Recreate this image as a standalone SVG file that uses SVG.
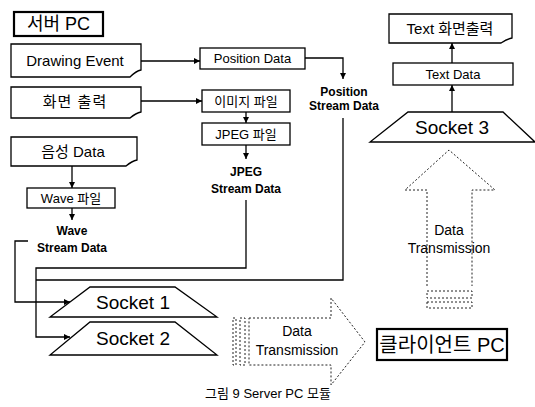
<svg xmlns="http://www.w3.org/2000/svg" width="535" height="407" viewBox="0 0 535 407">
<defs>
<style>
text{font-family:"Liberation Sans","Noto Sans CJK KR",sans-serif;fill:#000;text-anchor:middle;dominant-baseline:central}
.box{fill:#fff;stroke:#000;stroke-width:1.3}
.thick{fill:#fff;stroke:#000;stroke-width:2.2}
.doc{fill:#fff;stroke:#000;stroke-width:1.3}
.line{fill:none;stroke:#000;stroke-width:1.3}
.dash{fill:none;stroke:#222;stroke-width:1;stroke-dasharray:2 2}
.lbl{font-size:13px}
.sm{font-size:12px;font-weight:bold}
.sock{font-size:19px}
.tx{font-size:14px}
</style>
<marker id="ah" viewBox="0 0 8 8" refX="8" refY="4" markerWidth="6" markerHeight="6" orient="auto" markerUnits="userSpaceOnUse">
<path d="M0,0 L8,4 L0,8 z" fill="#000"/>
</marker>
</defs>

<g id="server-pc">
<rect class="thick" x="14" y="12" width="89" height="24"/>
<text x="58.5" y="24" style="font-size:18px">서버 PC</text>
</g>

<g id="drawing-event">
<path class="doc" d="M11,44 H141 V70 Q136,71 130,77 H11 Z"/>
<text class="tx" x="75" y="60" style="font-size:15px">Drawing Event</text>
</g>

<g id="position-data">
<rect class="box" x="200" y="48" width="105" height="21"/>
<text class="lbl" x="252.5" y="58.5">Position Data</text>
</g>

<g id="screen-out">
<path class="doc" d="M11,87 H141 V112 Q136,113 130,118 H11 Z"/>
<text x="75" y="101" style="font-size:15px;letter-spacing:1px">화면 출력</text>
</g>

<g id="image-file">
<rect class="box" x="202" y="90" width="88" height="22"/>
<text class="lbl" x="246" y="101">이미지 파일</text>
</g>

<g id="jpeg-file">
<rect class="box" x="202" y="123" width="88" height="22"/>
<text class="lbl" x="246" y="134">JPEG 파일</text>
</g>

<g id="jpeg-stream">
<text class="sm" x="246" y="172">JPEG</text>
<text class="sm" x="246" y="189">Stream Data</text>
</g>

<g id="position-stream">
<text class="sm" x="344" y="92">Position</text>
<text class="sm" x="344" y="106">Stream Data</text>
</g>

<g id="voice-data">
<path class="doc" d="M11,137 H137 V160 Q132,161 126,166 H11 Z"/>
<text x="73" y="151" style="font-size:15px">음성 Data</text>
</g>

<g id="wave-file">
<rect class="box" x="27" y="188" width="88" height="20"/>
<text class="lbl" x="71" y="198">Wave 파일</text>
</g>

<g id="wave-stream">
<text class="sm" x="72" y="231">Wave</text>
<text class="sm" x="72" y="248">Stream Data</text>
</g>

<g id="socket1">
<path class="box" d="M90,287 H175 L217,317 H50 Z"/>
<text class="sock" x="133" y="302">Socket 1</text>
</g>

<g id="socket2">
<path class="box" d="M90,322 H175 L217,355 H50 Z"/>
<text class="sock" x="133" y="338">Socket 2</text>
</g>

<g id="tx-right">
<rect class="dash" x="233" y="318" width="3" height="47"/>
<rect class="dash" x="240" y="318" width="5" height="47"/>
<path class="dash" d="M249,318 H331 V298 L365,342 L331,385 V365 H249 Z"/>
<text class="tx" x="297" y="331">Data</text>
<text class="tx" x="297" y="350">Transmission</text>
</g>

<g id="client-pc">
<rect class="thick" x="377" y="329" width="130" height="31"/>
<text x="442" y="345" style="font-size:20px">클라이언트 PC</text>
</g>

<g id="tx-up">
<path class="dash" d="M427,286 V190 H405 L449,150 L495,190 H472 V286"/>
<rect class="dash" x="427" y="291" width="45" height="7"/>
<rect class="dash" x="427" y="302" width="45" height="6"/>
<text class="tx" x="449" y="230">Data</text>
<text class="tx" x="449" y="248">Transmission</text>
</g>

<g id="socket3">
<path class="box" d="M408,112 H503 L535,142 H370 Z"/>
<text class="sock" x="452" y="127">Socket 3</text>
</g>

<g id="text-data">
<rect class="box" x="393" y="63" width="120" height="22"/>
<text class="lbl" x="453" y="74">Text Data</text>
</g>

<g id="text-screen">
<path class="doc" d="M389,14 H512 V38 Q507,39 501,43 H389 Z"/>
<text x="450" y="28" style="font-size:15px">Text 화면출력</text>
</g>

<g id="connectors">
<line class="line" x1="141" y1="61" x2="200" y2="61" marker-end="url(#ah)"/>
<line class="line" x1="141" y1="101" x2="202" y2="101" marker-end="url(#ah)"/>
<line class="line" x1="246" y1="112" x2="246" y2="123" marker-end="url(#ah)"/>
<line class="line" x1="246" y1="145" x2="246" y2="159" marker-end="url(#ah)"/>
<path class="line" d="M305,58 H343 V79" marker-end="url(#ah)"/>
<line class="line" x1="72" y1="166" x2="72" y2="188" marker-end="url(#ah)"/>
<line class="line" x1="72" y1="208" x2="72" y2="220" marker-end="url(#ah)"/>
<path class="line" d="M28,241 H15 V302 H70" marker-end="url(#ah)"/>
<path class="line" d="M246,200 V268 H36 V337 H70" marker-end="url(#ah)"/>
<path class="line" d="M343,118 V280 H36"/>
<line class="line" x1="452" y1="112" x2="452" y2="85" marker-end="url(#ah)"/>
<line class="line" x1="452" y1="63" x2="452" y2="43" marker-end="url(#ah)"/>
</g>

<text x="268" y="393" style="font-size:13px">그림 9 Server PC 모듈</text>
</svg>
